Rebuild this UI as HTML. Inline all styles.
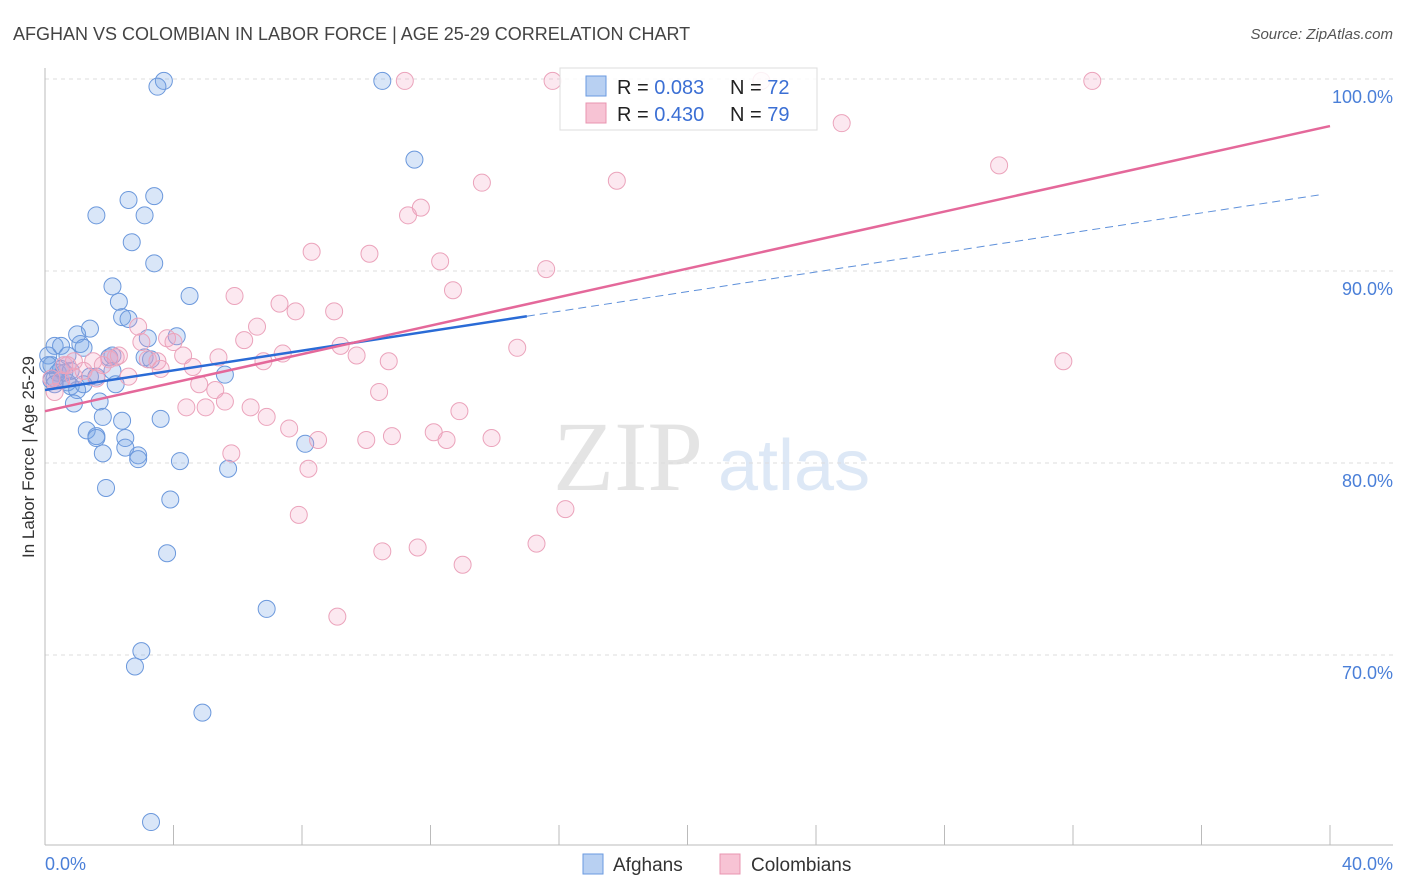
<!DOCTYPE html>
<html><head><meta charset="utf-8"><style>
body{margin:0;background:#fff;}
svg{display:block;font-family:"Liberation Sans",sans-serif;}
</style></head><body>
<svg id="chart" width="1406" height="892" viewBox="0 0 1406 892">
<text x="13" y="40" font-size="18" fill="#444">AFGHAN VS COLOMBIAN IN LABOR FORCE | AGE 25-29 CORRELATION CHART</text>
<text x="1393" y="39" font-size="15" fill="#555" font-style="italic" text-anchor="end">Source: ZipAtlas.com</text>
<g>
<text x="553" y="490" font-family="Liberation Serif,serif" font-size="100" fill="#e4e4e4">ZIP</text>
<text x="718" y="490" font-size="72" fill="#dde8f6">atlas</text>
</g>
<g id="grid"></g>
<g id="axes"></g>
<g id="points"></g>
<g id="trends"></g>
<text transform="translate(34,457) rotate(-90)" font-size="17" fill="#333" text-anchor="middle">In Labor Force | Age 25-29</text>
<g>
<rect x="560" y="68" width="257" height="62" fill="#fff" fill-opacity="0.85" stroke="#ddd"/>
<rect x="586" y="76" width="20" height="20" fill="#b8d0f2" stroke="#6a9ae0"/>
<rect x="586" y="103" width="20" height="20" fill="#f7c3d4" stroke="#e895b0"/>
<text x="617" y="94" font-size="20" fill="#222">R = <tspan fill="#3b6fd4">0.083</tspan></text>
<text x="730" y="94" font-size="20" fill="#222">N = <tspan fill="#3b6fd4">72</tspan></text>
<text x="617" y="121" font-size="20" fill="#222">R = <tspan fill="#3b6fd4">0.430</tspan></text>
<text x="730" y="121" font-size="20" fill="#222">N = <tspan fill="#3b6fd4">79</tspan></text>
</g>
<g>
<rect x="583" y="854" width="20" height="20" fill="#b8d0f2" stroke="#6a9ae0"/>
<text x="613" y="871" font-size="19" fill="#333">Afghans</text>
<rect x="720" y="854" width="20" height="20" fill="#f7c3d4" stroke="#e895b0"/>
<text x="751" y="871" font-size="19" fill="#333">Colombians</text>
</g>
</svg>
<script>
const blueX=[3.7,3.5,10.5,11.5,1.6,2.6,3.4,3.1,2.7,3.4,4.5,2.1,2.3,2.4,2.6,1.0,1.4,1.1,1.2,3.2,4.1,0.3,0.5,0.1,0.2,0.4,0.6,0.7,2.0,2.1,3.1,3.3,0.7,0.8,1.0,1.4,1.6,2.2,2.1,5.6,0.9,1.7,1.8,2.4,3.6,1.3,1.6,1.6,2.5,2.5,1.8,2.9,2.9,4.2,5.7,1.9,3.9,8.1,3.8,6.9,3.0,2.8,4.9,3.3,0.2,0.3,0.5,0.1,0.8,1.2,0.5,0.3];
const blueY=[99.9,99.6,99.9,95.8,92.9,93.7,93.9,92.9,91.5,90.4,88.7,89.2,88.4,87.6,87.5,86.7,87.0,86.2,86.0,86.5,86.6,86.1,86.1,85.6,85.1,84.7,84.7,85.6,85.5,85.6,85.5,85.4,84.2,84.0,83.8,84.5,84.5,84.1,84.8,84.6,83.1,83.2,82.4,82.2,82.3,81.7,81.4,81.3,81.3,80.8,80.5,80.4,80.2,80.1,79.7,78.7,78.1,81.0,75.3,72.4,70.2,69.4,67.0,61.3,84.3,84.4,84.9,85.1,84.8,84.1,84.3,84.1];
const pinkX=[11.2,15.8,22.3,32.6,24.8,29.7,13.6,17.8,11.7,11.3,8.3,10.1,12.3,15.6,12.7,5.9,7.3,7.8,9.0,6.6,3.0,3.8,4.0,2.9,6.2,7.4,9.2,9.7,10.7,14.7,31.7,5.4,6.8,4.3,3.2,3.5,2.2,1.5,0.6,3.6,4.6,1.2,2.6,1.6,4.8,5.3,10.4,5.6,4.4,5.0,6.4,6.9,12.9,7.6,8.5,10.0,10.8,12.1,12.5,13.9,5.8,8.2,7.9,16.2,15.3,10.5,11.6,13.0,9.1,2.0,0.9,0.2,0.7,2.3,0.3,0.5,0.9,1.8];
const pinkY=[99.9,99.9,99.9,99.9,97.7,95.5,94.6,94.7,93.3,92.9,91.0,90.9,90.5,90.1,89.0,88.7,88.3,87.9,87.9,87.1,86.3,86.5,86.3,87.1,86.4,85.7,86.1,85.6,85.3,86.0,85.3,85.5,85.3,85.6,85.4,85.3,85.5,85.3,85.1,84.9,85.0,84.8,84.5,84.4,84.1,83.8,83.7,83.2,82.9,82.9,82.9,82.4,82.7,81.8,81.2,81.2,81.4,81.6,81.2,81.3,80.5,79.7,77.3,77.6,75.8,75.4,75.6,74.7,72.0,85.4,85.3,84.4,85.1,85.6,83.7,84.3,84.5,85.1];
const yTicks=[100,90,80,70];
const yTickLabels=["100.0%","90.0%","80.0%","70.0%"];
const xTicks=[0,4,8,12,16,20,24,28,32,36,40];
const xEndLabels=["0.0%","40.0%"];
const blueTrend=[83.8,94.05];
const blueSolidEnd=15.0;
const pinkTrend=[82.7,97.55];

const NS="http://www.w3.org/2000/svg";
const sx=v=>45+v*32.125;
const sy=v=>79+(100-v)*19.2;
function mk(tag,attrs,parent){const e=document.createElementNS(NS,tag);for(const k in attrs)e.setAttribute(k,attrs[k]);parent.appendChild(e);return e;}
const grid=document.getElementById('grid'),axes=document.getElementById('axes'),pts=document.getElementById('points'),tr=document.getElementById('trends');
yTicks.forEach((t,i)=>{
  const l=mk('line',{x1:45,x2:1393,y1:sy(t),y2:sy(t),stroke:'#ddd','stroke-dasharray':'4,4'},grid);
  
  
  const tx=mk('text',{x:1393,y:sy(t)+24,'font-size':18,fill:'#4a7fd8','text-anchor':'end'},axes);
  tx.textContent=yTickLabels[i];
  
  
});
const ya=mk('line',{x1:45,x2:45,y1:68,y2:845,stroke:'#bbb'},axes);


const xa=mk('line',{x1:45,x2:1393,y1:845,y2:845,stroke:'#bbb'},axes);


xTicks.slice(1).forEach(t=>{
  const l=mk('line',{x1:sx(t),x2:sx(t),y1:825,y2:845,stroke:'#bbb'},axes);
  
  
});
const xl0=mk('text',{x:45,y:870,'font-size':18,fill:'#4a7fd8'},axes);xl0.textContent=xEndLabels[0];


const xl1=mk('text',{x:1393,y:870,'font-size':18,fill:'#4a7fd8','text-anchor':'end'},axes);xl1.textContent=xEndLabels[1];


function dots(X,Y,fill,stroke,name){X.forEach((x,i)=>{
  const c=mk('circle',{cx:sx(x),cy:sy(Y[i]),r:8.5,fill:fill,stroke:stroke,'stroke-width':1},pts);
  
  
});}
dots(blueX,blueY,'rgba(120,165,230,0.28)','#6b98dc','afghan-point');
dots(pinkX,pinkY,'rgba(245,165,195,0.25)','#eba3bb','colombian-point');
const bl=(x)=>blueTrend[0]+(blueTrend[1]-blueTrend[0])*x/40;
const b1=mk('line',{x1:sx(0),y1:sy(bl(0)),x2:sx(blueSolidEnd),y2:sy(bl(blueSolidEnd)),stroke:'#2a6bd6','stroke-width':2.5},tr);


const b2=mk('line',{x1:sx(blueSolidEnd),y1:sy(bl(blueSolidEnd)),x2:sx(39.8),y2:sy(bl(39.8)),stroke:'#5e90da','stroke-width':1,'stroke-dasharray':'8,5'},tr);


const p1=mk('line',{x1:sx(0),y1:sy(pinkTrend[0]),x2:sx(40),y2:sy(pinkTrend[1]),stroke:'#e4689a','stroke-width':2.5},tr);


</script>
</body></html>
